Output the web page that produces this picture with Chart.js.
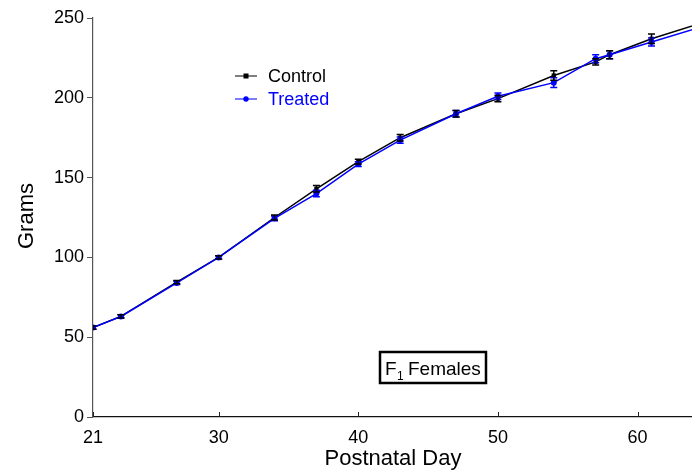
<!DOCTYPE html>
<html>
<head>
<meta charset="utf-8">
<script src="https://cdn.jsdelivr.net/npm/chart.js@4.4.1/dist/chart.umd.min.js"></script>
<style>
  html, body { margin: 0; padding: 0; background: #fff; }
  #wrap { position: relative; width: 692px; height: 476px; }
</style>
</head>
<body>
<div id="wrap"><canvas id="chart" width="692" height="476"></canvas></div>
<script>
// ── Data ──────────────────────────────────────────────────────────────────────
const days         = [21, 23, 27, 30, 34, 37, 40, 43, 47, 50, 54, 57, 58, 61, 65];
const controlMean  = [56, 63, 84.5, 100, 125, 143, 160, 175, 190, 199.5, 214, 222.5, 227, 237, 248];
const controlErr   = [1, 1, 1, 1, 1.5, 2, 1.5, 2, 2, 2, 3, 2, 2.5, 3, 3];
const treatedMean  = [56, 63, 84, 100, 124.5, 140, 158.5, 173.5, 190, 201, 209.5, 224.5, 227, 235, 245.5];
const treatedErr   = [1, 1, 1, 1, 1.5, 2, 1.5, 2, 2, 2, 3, 2.5, 2.5, 2.5, 3];
const xTicks       = [21, 30, 40, 50, 60];
const yTicks       = [0, 50, 100, 150, 200, 250];

const FONT = '"Liberation Sans", Arial, sans-serif';

// ── Error bars, inner x ticks, titles, legend and label box ───────────────────
const extras = {
  id: 'extras',
  afterDatasetsDraw(chart) {
    const { ctx, chartArea: a, scales: { x, y } } = chart;
    ctx.save();
    ctx.beginPath();
    ctx.rect(a.left, 0, a.right - a.left, a.bottom);
    ctx.clip();
    chart.data.datasets.forEach(ds => {
      ctx.strokeStyle = ds.borderColor;
      ctx.lineWidth = 1.5;
      ds.data.forEach((p, i) => {
        const e = ds.errors[i];
        const px = x.getPixelForValue(p.x);
        const y1 = y.getPixelForValue(p.y - e), y2 = y.getPixelForValue(p.y + e);
        ctx.beginPath();
        ctx.moveTo(px, y1); ctx.lineTo(px, y2);
        ctx.moveTo(px - 3.5, y1); ctx.lineTo(px + 3.5, y1);
        ctx.moveTo(px - 3.5, y2); ctx.lineTo(px + 3.5, y2);
        ctx.stroke();
      });
    });
    ctx.restore();
  },
  afterDraw(chart) {
    const { ctx, chartArea: a, scales: { x } } = chart;
    ctx.save();
    // x ticks point up into the plot
    ctx.strokeStyle = '#222';
    ctx.lineWidth = 1;
    xTicks.forEach(t => {
      const px = Math.round(x.getPixelForValue(t)) + 0.5;
      ctx.beginPath();
      ctx.moveTo(px, a.bottom); ctx.lineTo(px, a.bottom - 5);
      ctx.stroke();
    });

    // axis titles
    ctx.fillStyle = '#000';
    ctx.font = '22px ' + FONT;
    ctx.textAlign = 'center';
    ctx.textBaseline = 'middle';
    ctx.fillText('Postnatal Day', 393, 459);
    ctx.translate(27, 216);
    ctx.rotate(-Math.PI / 2);
    ctx.fillText('Grams', 0, 0);
    ctx.setTransform(1, 0, 0, 1, 0, 0);

    // legend
    const items = [
      { label: 'Control', color: '#000', line: '#555', y: 76, style: 'rect' },
      { label: 'Treated', color: '#0000ff', line: '#5050ff', y: 99, style: 'circle' },
    ];
    ctx.font = '18px ' + FONT;
    ctx.textAlign = 'left';
    items.forEach(it => {
      ctx.strokeStyle = it.line;
      ctx.lineWidth = 1.5;
      ctx.beginPath();
      ctx.moveTo(235, it.y); ctx.lineTo(257, it.y);
      ctx.stroke();
      ctx.fillStyle = it.color;
      if (it.style === 'rect') ctx.fillRect(243.5, it.y - 2.5, 5, 5);
      else { ctx.beginPath(); ctx.arc(246, it.y, 2.7, 0, Math.PI * 2); ctx.fill(); }
      ctx.fillText(it.label, 268, it.y + 1);
    });

    // "F1 Females" box
    ctx.strokeStyle = '#000';
    ctx.lineWidth = 2.5;
    ctx.strokeRect(380, 352, 106, 31);
    ctx.fillStyle = '#000';
    ctx.textBaseline = 'alphabetic';
    ctx.font = '19px ' + FONT;
    ctx.fillText('F', 385, 375);
    ctx.font = '12px ' + FONT;
    ctx.fillText('1', 397, 380);
    ctx.font = '19px ' + FONT;
    ctx.fillText('Females', 408, 375);
    ctx.restore();
  },
};

const toPoints = (xs, ys) => xs.map((d, i) => ({ x: d, y: ys[i] }));

new Chart(document.getElementById('chart'), {
  type: 'line',
  data: {
    datasets: [
      {
        label: 'Treated',
        data: toPoints(days, treatedMean),
        errors: treatedErr,
        borderColor: '#0000ff',
        backgroundColor: '#0000ff',
        borderWidth: 1.5,
        pointStyle: 'circle',
        pointRadius: 3,
        pointBorderWidth: 0,
        order: 0,
      },
      {
        label: 'Control',
        data: toPoints(days, controlMean),
        errors: controlErr,
        borderColor: '#000',
        backgroundColor: '#000',
        borderWidth: 1.5,
        pointStyle: 'rect',
        pointRadius: 3,
        pointBorderWidth: 0,
        order: 1,
      },
    ],
  },
  options: {
    responsive: false,
    animation: false,
    layout: { autoPadding: false, padding: { top: 18, right: 0, left: 0, bottom: 0 } },
    plugins: { legend: { display: false }, tooltip: { enabled: false } },
    scales: {
      x: {
        type: 'linear',
        min: 21,
        max: 63.9,
        afterBuildTicks: s => { s.ticks = xTicks.map(v => ({ value: v })); },
        afterFit: s => { s.height = 59; s.paddingLeft = 0; s.paddingRight = 0; },
        grid: { display: false },
        border: { display: true, color: '#111', width: 1.2 },
        ticks: { color: '#000', font: { family: FONT, size: 18 }, padding: 2, maxRotation: 0 },
      },
      y: {
        min: 0,
        max: 250,
        afterBuildTicks: s => { s.ticks = yTicks.map(v => ({ value: v })); },
        afterFit: s => { s.width = 93; },
        grid: { drawOnChartArea: false, drawTicks: true, tickLength: 6, color: '#555' },
        border: { display: true, color: '#555', width: 1.2 },
        ticks: { color: '#000', font: { family: FONT, size: 18 }, padding: 3 },
      },
    },
  },
  plugins: [extras],
});
</script>
</body>
</html>
